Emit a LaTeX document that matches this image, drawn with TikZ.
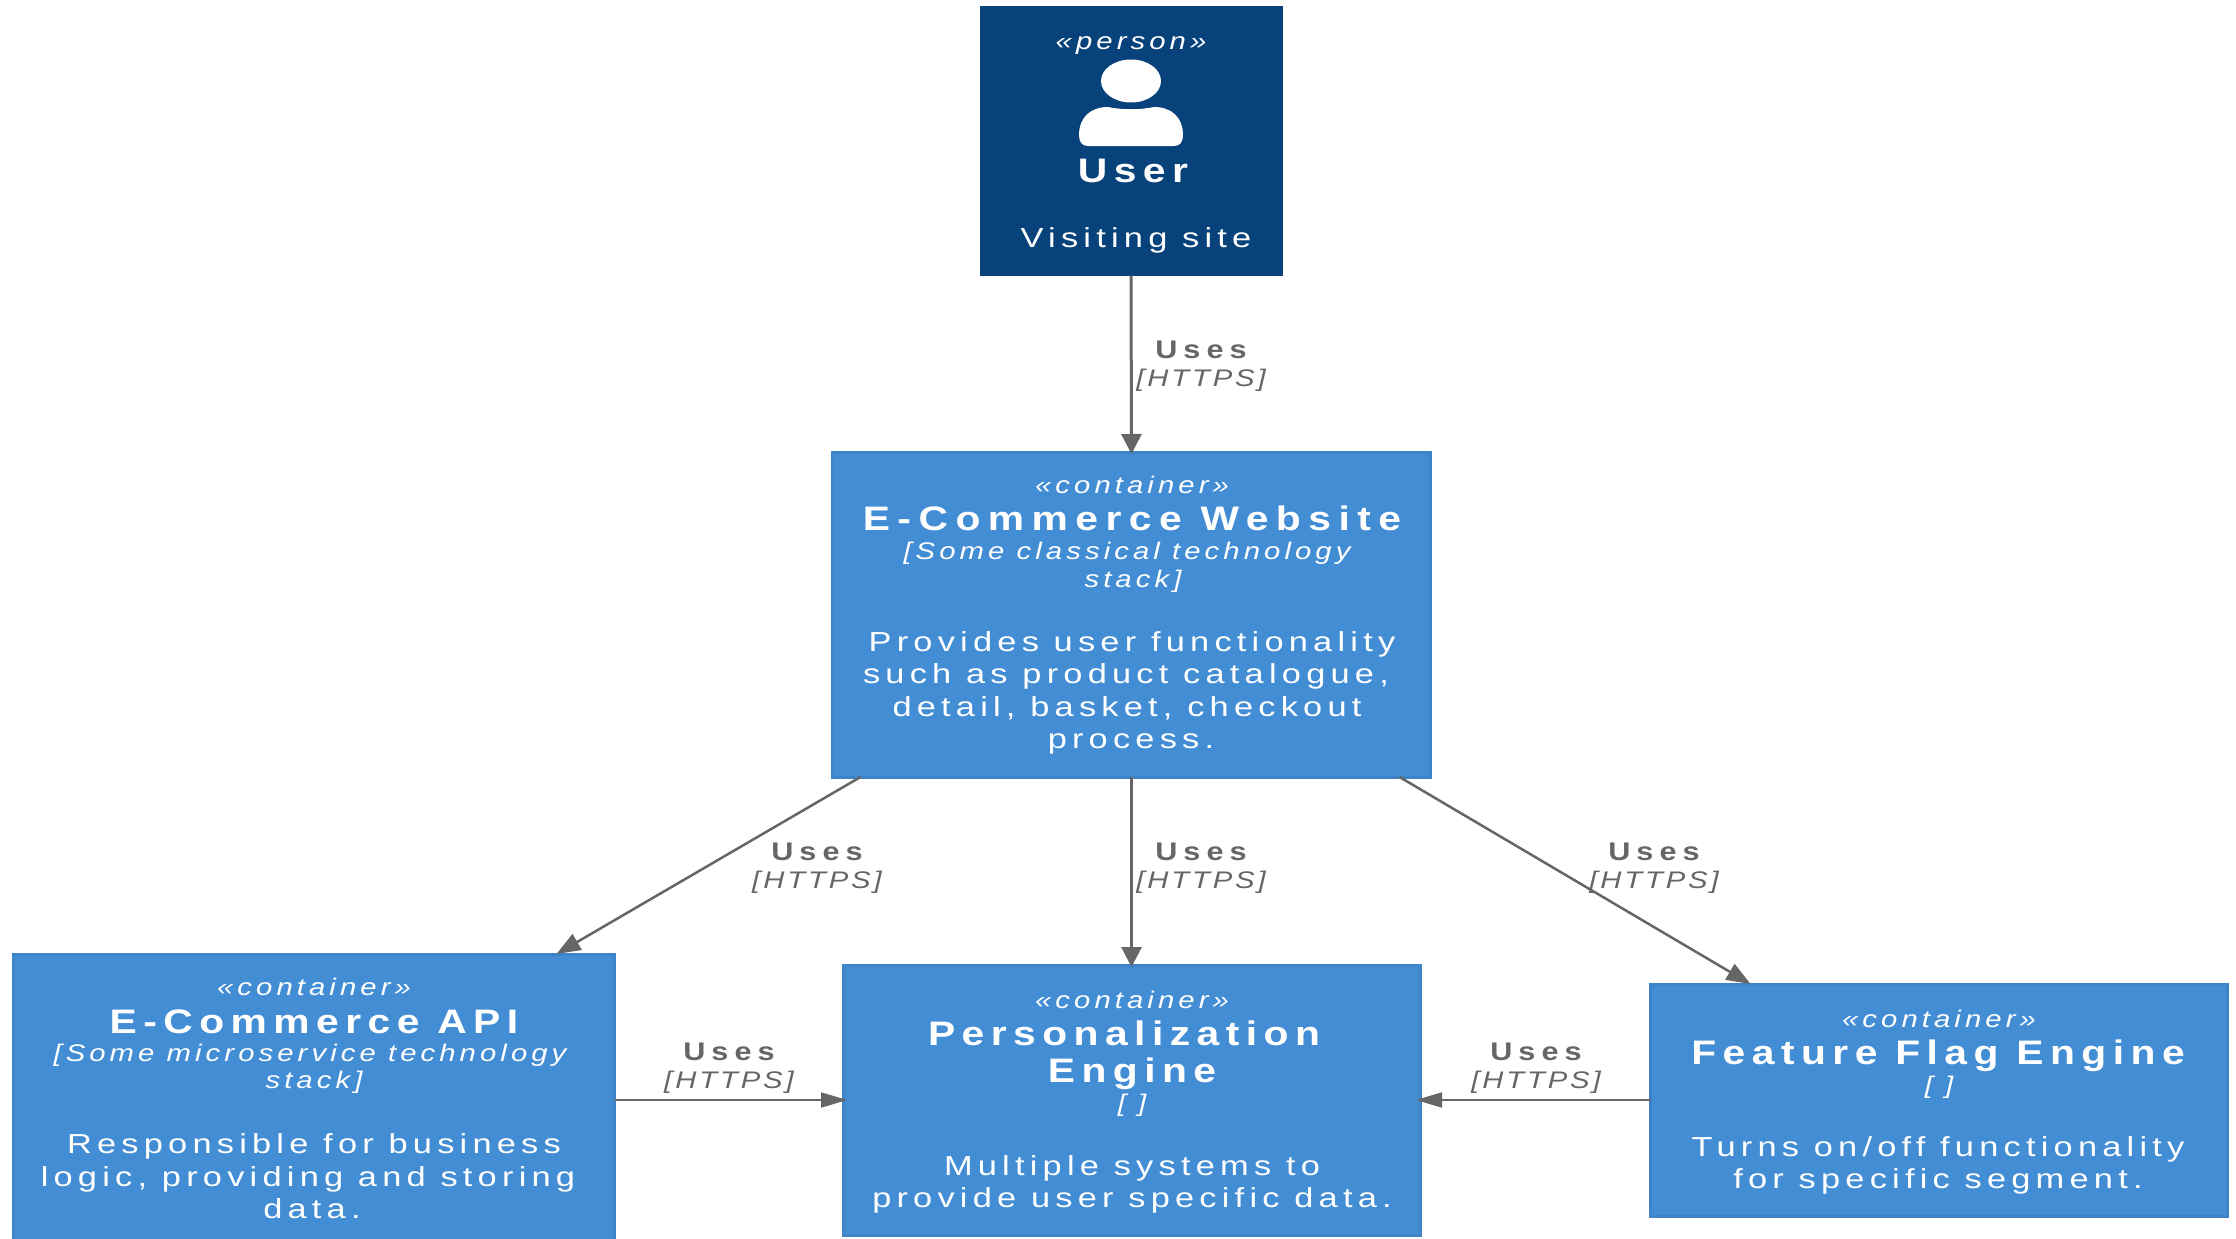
\documentclass[tikz,border=0pt]{standalone}
\usepackage{fontspec}
\setmainfont{Liberation Sans}
\newfontfamily\fde[FakeStretch=1.25,LetterSpace=19]{Liberation Sans}
\newfontfamily\fti[FakeStretch=1.2,LetterSpace=19]{Liberation Sans}
\newfontfamily\ftw[FakeStretch=1.2,LetterSpace=22]{Liberation Sans}
\newfontfamily\fus[FakeStretch=1.2,LetterSpace=24]{Liberation Sans}
\newfontfamily\fst[FakeStretch=1.22,LetterSpace=17]{Liberation Sans}
\newfontfamily\fhp[FakeStretch=1.22,LetterSpace=12]{Liberation Sans}
\usetikzlibrary{arrows.meta}
\definecolor{personc}{HTML}{08427B}
\definecolor{contc}{HTML}{438DD5}
\definecolor{contb}{HTML}{3F84C9}
\definecolor{linec}{HTML}{666666}
\tikzset{
 boxc/.style={draw=contb,fill=contc,line width=3pt,inner sep=0pt,outer sep=0pt},
 boxp/.style={draw=personc,fill=personc,line width=1pt,inner sep=0pt,outer sep=0pt},
 tline/.style={anchor=base,inner sep=0pt,outer sep=0pt,white},
 st/.style={tline,font=\fst\fontsize{24}{24}\selectfont\itshape},
 ti/.style={tline,font=\fti\fontsize{34}{34}\selectfont\bfseries},
 tw/.style={tline,font=\ftw\fontsize{34}{34}\selectfont\bfseries},
 de/.style={tline,font=\fde\fontsize{27.5}{27.5}\selectfont},
 ela/.style={tline,text=linec,font=\fus\fontsize{25.5}{25.5}\selectfont\bfseries},
 elb/.style={tline,text=linec,font=\fhp\fontsize{24}{24}\selectfont\itshape},
 hh/.style={draw=linec,line width=2pt,-{Triangle[length=26pt,width=15pt]}},
 vh/.style={draw=linec,line width=3pt,-{Triangle[length=20pt,width=20pt]}},
 dh/.style={draw=linec,line width=2.5pt,-{Triangle[length=24pt,width=18pt]}},
}
\begin{document}
\begin{tikzpicture}[x=1pt,y=-1pt]
\clip (0,0) rectangle (2236,1239);
\fill[white] (0,0) rectangle (2236,1239);
% boxes
\node[boxp,minimum width=302pt,minimum height=269pt] (user) at (1131,141) {};
\node[boxc,minimum width=598pt,minimum height=325pt] (web) at (1131.5,614.5) {};
\node[boxc,minimum width=601pt,minimum height=292pt] (api) at (314,1100) {};
\node[boxc,minimum width=577pt,minimum height=270pt] (pers) at (1131.5,1100) {};
\node[boxc,minimum width=577pt,minimum height=232pt] (flag) at (1939,1100) {};
% icon
\fill[white] (1131,81) ellipse [x radius=30,y radius=21.5];
\fill[white] (1079,135) .. controls (1079,118) and (1090,107) .. (1108,107) .. controls (1122,110) and (1140,110) .. (1154,107) .. controls (1172,107) and (1183,118) .. (1183,135) .. controls (1183,142) and (1180,146) .. (1174,146) -- (1088,146) .. controls (1082,146) and (1079,142) .. (1079,135) -- cycle;
% user text
\node[st] (u1) at (1131,50) {«person»};
\node[ti] (u2) at (1133,182) {User};
\node[de] (u3) at (1136,247) {Visiting site};
% web text
\node[st] (w1) at (1132,493) {«container»};
\node[tw] (w2) at (1132,530) {E-Commerce Website};
\node[st] (w3) at (1127,559) {[Some classical technology};
\node[st] (w4) at (1133,587) {stack]};
\node[de] (w5) at (1132,651) {Provides user functionality};
\node[de] (w6) at (1126,683) {such as product catalogue,};
\node[de] (w7) at (1127,716) {detail, basket, checkout};
\node[de] (w8) at (1131,748) {process.};
% api text
\node[st] (a1) at (314,995) {«container»};
\node[ti] (a2) at (314,1033) {E-Commerce API};
\node[st] (a3) at (310,1061) {[Some microservice technology};
\node[st] (a4) at (314,1088) {stack]};
\node[de] (a5) at (314,1153) {Responsible for business};
\node[de] (a6) at (308,1186) {logic, providing and storing};
\node[de] (a7) at (312,1218) {data.};
% pers text
\node[st] (p1) at (1132,1008) {«container»};
\node[ti] (p2) at (1124,1045) {Personalization};
\node[ti] (p3) at (1132,1082) {Engine};
\node[st] (p4) at (1132,1111) {[ ]};
\node[de] (p5) at (1132,1175) {Multiple systems to};
\node[de] (p6) at (1132,1207) {provide user specific data.};
% flag text
\node[st] (f1) at (1939,1027) {«container»};
\node[ti] (f2) at (1938,1064) {Feature Flag Engine};
\node[st] (f3) at (1939,1093) {[ ]};
\node[de] (f4) at (1938,1156) {Turns on/off functionality};
\node[de] (f5) at (1938,1188) {for specific segment.};
% connectors
\draw[vh] (user.south) -- ([yshift=-2pt]web.north);
\draw[vh] (web.south) -- ([yshift=-2pt]pers.north);
\draw[dh] ([xshift=28pt]web.south west) -- ([xshift=-58pt]api.north east);
\draw[dh] ([xshift=-31pt]web.south east) -- ([xshift=100pt]flag.north west);
\draw[hh] (api.east) -- ([xshift=4pt]pers.west);
\draw[hh] (flag.west) -- ([xshift=-4pt]pers.east);
% connector labels
\node[ela] (l1a) at (1201,358) {Uses};
\node[elb] (l1b) at (1201,386) {[HTTPS]};
\node[ela] (l2a) at (817,860) {Uses};
\node[elb] (l2b) at (817,888) {[HTTPS]};
\node[ela] (l3a) at (1201,860) {Uses};
\node[elb] (l3b) at (1201,888) {[HTTPS]};
\node[ela] (l4a) at (1654,860) {Uses};
\node[elb] (l4b) at (1654,888) {[HTTPS]};
\node[ela] (l5a) at (729,1060) {Uses};
\node[elb] (l5b) at (729,1088) {[HTTPS]};
\node[ela] (l6a) at (1536,1060) {Uses};
\node[elb] (l6b) at (1536,1088) {[HTTPS]};
\end{tikzpicture}
\end{document}
